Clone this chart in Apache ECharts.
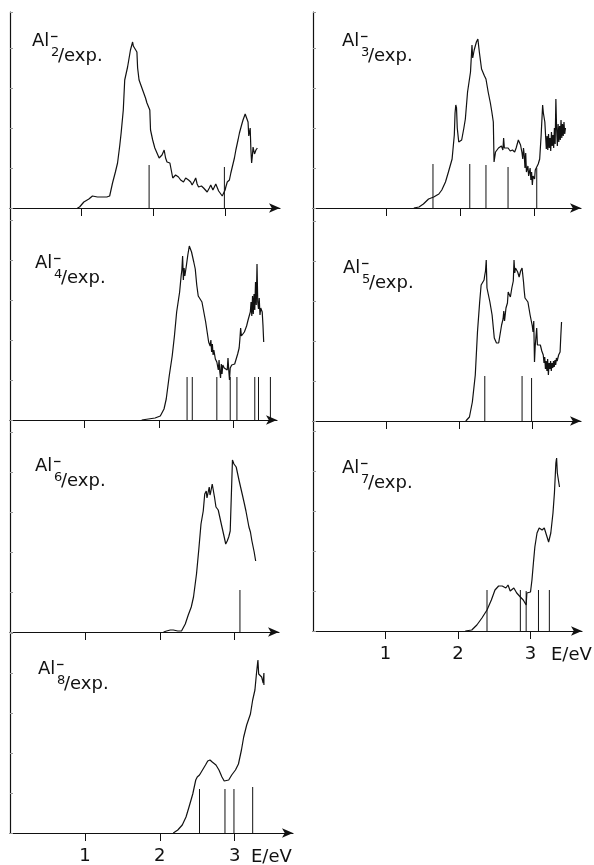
<!DOCTYPE html>
<html><head><meta charset="utf-8">
<script src="https://cdn.jsdelivr.net/npm/echarts@6/dist/echarts.min.js"></script>
<style>html,body{margin:0;padding:0;background:#fff}#c{width:594px;height:865px}</style>
</head><body><div id="c"></div>
<script>
// ---------- DATA (photon energy E in eV, intensity in arbitrary units) ----------
const tickValues = [1, 2, 3];
const tickLabels = ['1', '2', '3'];
const axisUnit = 'E/eV';
const clusterSizes = ['2', '3', '4', '5', '6', '7', '8'];

const al2Spectrum = [[0.94,0],[0.97,1],[1.03,6],[1.10,9],[1.15,12],[1.22,11],[1.29,11],[1.35,11],[1.39,12],[1.43,25],[1.47,36],[1.50,45],[1.53,62],[1.55,75],[1.58,98],[1.60,128],[1.64,141],[1.68,158],[1.71,166],[1.72,162],[1.74,161],[1.77,156],[1.78,140],[1.80,128],[1.83,122],[1.86,116],[1.89,110],[1.91,105],[1.95,98],[1.96,78],[1.99,68],[2.02,60],[2.05,55],[2.08,50],[2.12,53],[2.15,58],[2.17,50],[2.19,46],[2.23,45],[2.27,30],[2.31,33],[2.35,31],[2.38,28],[2.42,26],[2.45,30],[2.49,28],[2.52,26],[2.54,23],[2.57,27],[2.59,30],[2.61,24],[2.63,21],[2.67,22],[2.70,20],[2.75,16],[2.78,20],[2.80,23],[2.83,18],[2.85,18],[2.87,24],[2.89,25],[2.91,17],[2.93,16],[2.96,12],[2.98,13],[3.00,18],[3.01,21],[3.03,26],[3.06,28],[3.08,35],[3.10,41],[3.13,50],[3.15,58],[3.18,68],[3.20,75],[3.23,83],[3.25,88],[3.28,94],[3.30,90],[3.32,86],[3.33,72],[3.34,71],[3.35,80],[3.36,58],[3.37,45],[3.38,52],[3.39,61],[3.41,54],[3.43,58],[3.45,60]];
const al2Sticks = [[1.94,43],[2.99,41]];

const al3Spectrum = [[1.37,0],[1.44,1],[1.50,4],[1.57,9],[1.64,11],[1.71,14],[1.75,18],[1.80,26],[1.84,36],[1.89,49],[1.92,73],[1.93,95],[1.94,103],[1.95,100],[1.96,80],[1.98,66],[2.00,65],[2.02,68],[2.05,80],[2.07,89],[2.10,116],[2.14,136],[2.16,163],[2.17,150],[2.19,158],[2.22,166],[2.24,169],[2.26,156],[2.29,139],[2.33,132],[2.35,129],[2.38,116],[2.41,105],[2.43,96],[2.45,86],[2.46,46],[2.48,56],[2.50,58],[2.52,60],[2.54,59],[2.56,62],[2.58,58],[2.59,70],[2.60,60],[2.62,59],[2.65,60],[2.68,57],[2.71,58],[2.74,56],[2.76,60],[2.79,68],[2.82,63],[2.84,55],[2.85,49],[2.86,60],[2.87,53],[2.88,40],[2.89,55],[2.90,36],[2.92,42],[2.93,32],[2.95,40],[2.96,28],[2.97,36],[2.98,23],[2.99,32],[3.01,29],[3.02,38],[3.04,40],[3.06,44],[3.08,49],[3.10,73],[3.12,103],[3.13,95],[3.15,86],[3.17,59],[3.18,72],[3.19,58],[3.20,74],[3.21,60],[3.22,70],[3.23,57],[3.24,76],[3.25,62],[3.26,73],[3.27,60],[3.28,80],[3.29,64],[3.30,109],[3.31,79],[3.32,62],[3.33,84],[3.34,66],[3.35,82],[3.36,68],[3.37,88],[3.38,70],[3.39,84],[3.40,72],[3.41,86],[3.42,74],[3.43,80]];
const al3Sticks = [[1.63,44],[2.13,44],[2.35,43],[2.65,41],[3.04,40]];

const al4Spectrum = [[1.77,0],[1.86,1],[1.95,2],[2.02,4],[2.07,11],[2.10,21],[2.14,44],[2.18,64],[2.21,84],[2.24,108],[2.28,128],[2.30,144],[2.31,150],[2.32,164],[2.33,140],[2.34,152],[2.35,144],[2.37,154],[2.39,165],[2.41,174],[2.44,168],[2.47,158],[2.49,151],[2.51,135],[2.53,124],[2.58,118],[2.60,110],[2.63,98],[2.65,88],[2.67,78],[2.69,74],[2.70,80],[2.71,68],[2.72,76],[2.73,65],[2.74,70],[2.76,61],[2.78,58],[2.80,50],[2.81,60],[2.82,48],[2.83,42],[2.84,56],[2.85,46],[2.86,55],[2.88,52],[2.90,51],[2.92,50],[2.93,62],[2.94,50],[2.95,40],[2.96,52],[2.98,55],[3.00,54],[3.02,56],[3.04,58],[3.06,66],[3.08,72],[3.09,81],[3.10,92],[3.11,84],[3.13,84],[3.15,88],[3.18,94],[3.20,100],[3.23,108],[3.24,118],[3.25,104],[3.26,124],[3.27,106],[3.28,126],[3.29,110],[3.30,138],[3.31,115],[3.32,156],[3.33,118],[3.34,111],[3.35,122],[3.36,105],[3.37,112],[3.39,108],[3.40,95],[3.41,78]];
const al4Sticks = [[2.38,43],[2.45,43],[2.78,43],[2.96,43],[3.05,43],[3.29,43],[3.34,43],[3.50,43]];

const al5Spectrum = [[2.09,0],[2.14,4],[2.18,19],[2.22,46],[2.25,89],[2.28,119],[2.30,136],[2.34,141],[2.35,146],[2.36,150],[2.37,161],[2.38,133],[2.42,119],[2.45,106],[2.48,83],[2.51,78],[2.54,78],[2.58,96],[2.60,102],[2.61,110],[2.62,100],[2.64,113],[2.66,118],[2.67,129],[2.69,129],[2.70,124],[2.72,133],[2.74,140],[2.75,161],[2.76,148],[2.77,153],[2.80,149],[2.82,144],[2.84,150],[2.86,153],[2.88,139],[2.89,130],[2.90,123],[2.94,119],[2.97,106],[3.00,95],[3.01,89],[3.02,100],[3.03,59],[3.04,75],[3.06,93],[3.07,76],[3.09,78],[3.11,76],[3.13,70],[3.15,66],[3.16,58],[3.17,64],[3.18,52],[3.19,60],[3.20,50],[3.21,62],[3.22,46],[3.23,58],[3.24,52],[3.25,60],[3.26,50],[3.27,58],[3.28,53],[3.29,60],[3.30,54],[3.31,61],[3.32,56],[3.33,63],[3.34,60],[3.36,66],[3.38,69],[3.39,85],[3.40,99]];
const al5Sticks = [[2.35,45],[2.86,45],[2.99,43]];

const al6Spectrum = [[2.05,0],[2.09,1],[2.14,2],[2.18,2],[2.24,1],[2.29,1],[2.34,8],[2.38,17],[2.42,25],[2.45,35],[2.49,58],[2.52,82],[2.55,108],[2.58,121],[2.60,138],[2.62,141],[2.63,134],[2.64,136],[2.66,145],[2.67,137],[2.68,140],[2.70,148],[2.73,135],[2.75,125],[2.78,122],[2.80,120],[2.83,105],[2.86,95],[2.88,88],[2.90,91],[2.92,95],[2.94,101],[2.96,148],[2.97,172],[2.99,168],[3.02,165],[3.06,151],[3.10,138],[3.13,128],[3.15,121],[3.19,105],[3.21,100],[3.23,91],[3.26,80],[3.28,71]];
const al6Sticks = [[3.07,42]];

const al7Spectrum = [[2.10,0],[2.19,1],[2.26,6],[2.33,13],[2.40,21],[2.46,31],[2.51,41],[2.56,45],[2.61,45],[2.66,43],[2.69,46],[2.72,40],[2.77,43],[2.81,38],[2.86,34],[2.90,31],[2.94,26],[2.95,38],[3.00,39],[3.02,51],[3.04,68],[3.06,84],[3.09,98],[3.12,103],[3.16,101],[3.19,103],[3.22,96],[3.25,89],[3.28,98],[3.31,118],[3.33,138],[3.35,168],[3.36,173],[3.37,158],[3.40,144]];
const al7Sticks = [[2.40,41],[2.86,41],[2.94,40],[3.11,41],[3.26,41]];

const al8Spectrum = [[2.18,0],[2.24,3],[2.30,8],[2.35,16],[2.39,26],[2.44,39],[2.48,53],[2.50,56],[2.53,58],[2.57,63],[2.61,68],[2.64,72],[2.67,73],[2.70,71],[2.75,68],[2.79,63],[2.83,56],[2.86,52],[2.88,53],[2.92,53],[2.96,58],[3.01,63],[3.05,69],[3.09,83],[3.12,96],[3.16,108],[3.21,119],[3.24,133],[3.27,143],[3.29,159],[3.31,173],[3.32,159],[3.34,157],[3.36,156],[3.38,150],[3.39,160],[3.39,148]];
const al8Sticks = [[2.53,44],[2.87,44],[2.99,44],[3.24,46]];

// ---------- LAYOUT (pixel geometry of each panel) ----------
const spectra = [al2Spectrum, al3Spectrum, al4Spectrum, al5Spectrum, al6Spectrum, al7Spectrum, al8Spectrum];
const sticks  = [al2Sticks, al3Sticks, al4Sticks, al5Sticks, al6Sticks, al7Sticks, al8Sticks];
const layout = [
  {left:10,  scale:71.7, axisEnd:285, top:12,  base:208, lx:32,  ly:35,  labels:false},
  {left:313, scale:73.6, axisEnd:586, top:12,  base:208, lx:342, ly:35,  labels:false},
  {left:10,  scale:74.4, axisEnd:282, top:208, base:420, lx:35,  ly:257, labels:false},
  {left:313, scale:73.1, axisEnd:586, top:208, base:421, lx:343, ly:262, labels:false},
  {left:10,  scale:74.9, axisEnd:284, top:420, base:632, lx:35,  ly:460, labels:false},
  {left:313, scale:72.5, axisEnd:587, top:421, base:631, lx:342, ly:462, labels:true, unitX:551},
  {left:10,  scale:74.9, axisEnd:298, top:632, base:833, lx:38,  ly:663, labels:true, unitX:251}
];

const INK = '#111';
const FONT = 'DejaVu Sans';
const grids = [], xAxes = [], yAxes = [], series = [], graphics = [];

layout.forEach((p, i) => {
  const w = p.axisEnd - p.left - 5;
  const h = p.base - p.top;
  grids.push({left:p.left, top:p.top, width:w, height:h});
  xAxes.push({
    type:'value', gridIndex:i, min:0, max:w / p.scale,
    axisLine:{show:true, onZero:false, symbol:['none','arrow'], symbolSize:[7,11], lineStyle:{color:INK, width:1.2}},
    axisTick:{show:true, customValues:tickValues, length:8, lineStyle:{color:INK, width:1}},
    axisLabel:{show:p.labels, customValues:tickValues, formatter:(v)=>tickLabels[tickValues.indexOf(v)] ?? '',
      fontFamily:FONT, fontSize:18, color:INK, margin:14},
    splitLine:{show:false}
  });
  yAxes.push({
    type:'value', gridIndex:i, min:0, max:h, interval:40,
    axisLine:{show:true, onZero:false, lineStyle:{color:INK, width:1.2}},
    axisTick:{show:true, inside:true, length:3, lineStyle:{color:'#999', width:1}},
    axisLabel:{show:false}, splitLine:{show:false}
  });
  series.push({
    type:'line', xAxisIndex:i, yAxisIndex:i, data:spectra[i],
    symbol:'none', lineStyle:{color:INK, width:1.2}, z:3
  });
  series.push({
    type:'bar', xAxisIndex:i, yAxisIndex:i, data:sticks[i],
    barWidth:1, itemStyle:{color:INK}, z:2
  });
  // panel title  Al_n^- / exp.
  const big = '18px ' + FONT, small = '13px ' + FONT;
  graphics.push({type:'text', x:p.lx, y:p.ly + 6, style:{text:'Al', font:big, fill:INK, textVerticalAlign:'middle', verticalAlign:'middle'}});
  graphics.push({type:'text', x:p.lx + 19, y:p.ly + 17.5, style:{text:clusterSizes[i], font:small, fill:INK, textVerticalAlign:'middle', verticalAlign:'middle'}});
  graphics.push({type:'line', shape:{x1:p.lx + 19, y1:p.ly + 1.5, x2:p.lx + 25.5, y2:p.ly + 1.5}, style:{stroke:INK, lineWidth:1.3}});
  graphics.push({type:'text', x:p.lx + 26, y:p.ly + 21, style:{text:'/exp.', font:big, fill:INK, textVerticalAlign:'middle', verticalAlign:'middle'}});
  if (p.labels) {
    graphics.push({type:'text', x:p.unitX, y:p.base + 24, style:{text:axisUnit, font:'18px ' + FONT, fill:INK, textVerticalAlign:'middle', verticalAlign:'middle'}});
  }
});

const chart = echarts.init(document.getElementById('c'), null, {renderer:'canvas'});
chart.setOption({
  animation:false,
  backgroundColor:'#fff',
  grid:grids, xAxis:xAxes, yAxis:yAxes, series:series,
  graphic:{elements:graphics}
});
</script>
</body></html>
